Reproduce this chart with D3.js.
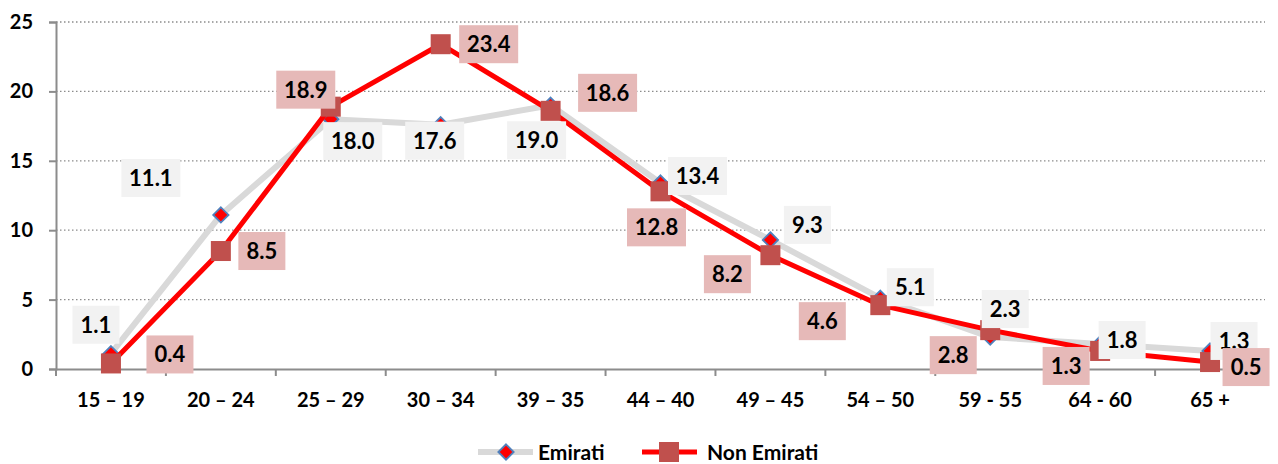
<!DOCTYPE html>
<html><head><meta charset="utf-8">
<script src="https://cdn.jsdelivr.net/npm/d3@7"></script>
<style>
html,body{margin:0;padding:0;background:#fff;}
svg{display:block;font-family:Lato,"Open Sans",sans-serif;font-weight:bold;}
</style></head>
<body>
<svg id="c" width="1278" height="464"></svg>
<script>
const categories = ["15 – 19","20 – 24","25 – 29","30 – 34","39 – 35","44 – 40","49 – 45","54 – 50","59 - 55","64 - 60","65 +"];
const emirati = [1.1, 11.1, 18.0, 17.6, 19.0, 13.4, 9.3, 5.1, 2.3, 1.8, 1.3];
const nonEmirati = [0.4, 8.5, 18.9, 23.4, 18.6, 12.8, 8.2, 4.6, 2.8, 1.3, 0.5];
const yTicks = [0, 5, 10, 15, 20, 25];
const seriesNames = ["Emirati", "Non Emirati"];

// label placement (layout only): offsets of label box centre from the point
const emiratiLabelOffset = [[-15,-29],[-70,-37],[22,22],[-6,16],[-14,35],[37,-7],[37,-15],[30,-11],[15,-28],[22,-4],[24,-10]];
const nonEmiratiLabelOffset = [[59,-9],[41,0],[-25,-17],[48,0],[57,-18],[-4,36],[-43,19],[-58,16],[-37,25],[-34,15],[36,5]];

const svg = d3.select("#c");
const m = {left:56, right:1265, top:22, bottom:369};
const x = d3.scaleBand().domain(categories).range([m.left, m.right]);
const y = d3.scaleLinear().domain([0,25]).range([m.bottom, m.top]);
const cx = d => x(d) + x.bandwidth()/2;

// gridlines
svg.append("g").selectAll("line").data(yTicks.filter(t=>t>0)).join("line")
  .attr("x1", m.left).attr("x2", m.right)
  .attr("y1", d=>y(d)).attr("y2", d=>y(d))
  .attr("stroke", "#8c8c8c").attr("stroke-width", 1.3).attr("stroke-dasharray", "1.5,2.5");

// y axis
const yAxis = svg.append("g").attr("transform", `translate(${m.left},0)`)
  .call(d3.axisLeft(y).tickValues(yTicks).tickSize(7).tickPadding(16).tickFormat(d3.format("d")));
yAxis.select(".domain").attr("stroke", "#8c8c8c").attr("stroke-width", 2);
yAxis.selectAll(".tick line").attr("stroke", "#8c8c8c").attr("stroke-width", 2);
yAxis.selectAll(".tick text").attr("font-size", 20).attr("font-family", "Lato").attr("font-weight", "bold").attr("fill", "#000");

// x axis
const xAxis = svg.append("g").attr("transform", `translate(0,${m.bottom})`)
  .call(d3.axisBottom(x).tickSize(0).tickPadding(24));
xAxis.select(".domain").attr("stroke", "#8c8c8c").attr("stroke-width", 2);
xAxis.selectAll(".tick text").attr("font-size", 20).attr("font-family", "Lato").attr("font-weight", "bold").attr("fill", "#000");
svg.append("g").selectAll("line").data(d3.range(categories.length+1)).join("line")
  .attr("x1", i => m.left + i*x.bandwidth()).attr("x2", i => m.left + i*x.bandwidth())
  .attr("y1", m.bottom).attr("y2", m.bottom+7)
  .attr("stroke", "#8c8c8c").attr("stroke-width", 2);

const line = d3.line().x((d,i)=>cx(categories[i])).y(d=>y(d));

// Emirati
svg.append("path").datum(emirati).attr("d", line).attr("fill","none")
  .attr("stroke","#d9d9d9").attr("stroke-width",6).attr("stroke-linejoin","round");
const diamond = d3.symbol().type(d3.symbolDiamond2).size(150);
svg.append("g").selectAll("path").data(emirati).join("path")
  .attr("d", diamond).attr("transform",(d,i)=>`translate(${cx(categories[i])},${y(d)})`)
  .attr("fill","#ff0000").attr("stroke","#4f81bd").attr("stroke-width",1.8);

// Non Emirati
svg.append("path").datum(nonEmirati).attr("d", line).attr("fill","none")
  .attr("stroke","#ff0000").attr("stroke-width",5).attr("stroke-linejoin","round");
svg.append("g").selectAll("rect").data(nonEmirati).join("rect")
  .attr("x",(d,i)=>cx(categories[i])-10).attr("y",d=>y(d)-10)
  .attr("width",20).attr("height",20).attr("fill","#c0504d");

// labels
function labels(vals, offs, bg) {
  const g = svg.append("g").selectAll("g").data(vals).join("g")
    .attr("transform",(d,i)=>`translate(${cx(categories[i])+offs[i][0]},${y(d)+offs[i][1]})`);
  g.append("rect").attr("x", d => d >= 10 ? -29.5 : -23.5).attr("y",-19)
    .attr("width", d => d >= 10 ? 59 : 47).attr("height",38).attr("fill",bg);
  g.append("text").attr("text-anchor","middle").attr("dy","0.36em")
    .attr("font-size",22).attr("fill","#000").text(d=>d.toFixed(1));
}
labels(emirati, emiratiLabelOffset, "#f2f2f2");
labels(nonEmirati, nonEmiratiLabelOffset, "#e6b9b8");

// legend
const lg = svg.append("g");
lg.append("line").attr("x1",478).attr("x2",533).attr("y1",452).attr("y2",452)
  .attr("stroke","#d9d9d9").attr("stroke-width",6);
lg.append("path").attr("d", diamond).attr("transform","translate(506,452)")
  .attr("fill","#ff0000").attr("stroke","#4f81bd").attr("stroke-width",1.8);
lg.append("text").attr("x",538).attr("y",452).attr("dy","0.36em").attr("font-size",21).text(seriesNames[0]);
lg.append("line").attr("x1",642).attr("x2",697).attr("y1",452).attr("y2",452)
  .attr("stroke","#ff0000").attr("stroke-width",5);
lg.append("rect").attr("x",659).attr("y",442).attr("width",20).attr("height",20).attr("fill","#c0504d");
lg.append("text").attr("x",707).attr("y",452).attr("dy","0.36em").attr("font-size",21).text(seriesNames[1]);
</script>
</body></html>
